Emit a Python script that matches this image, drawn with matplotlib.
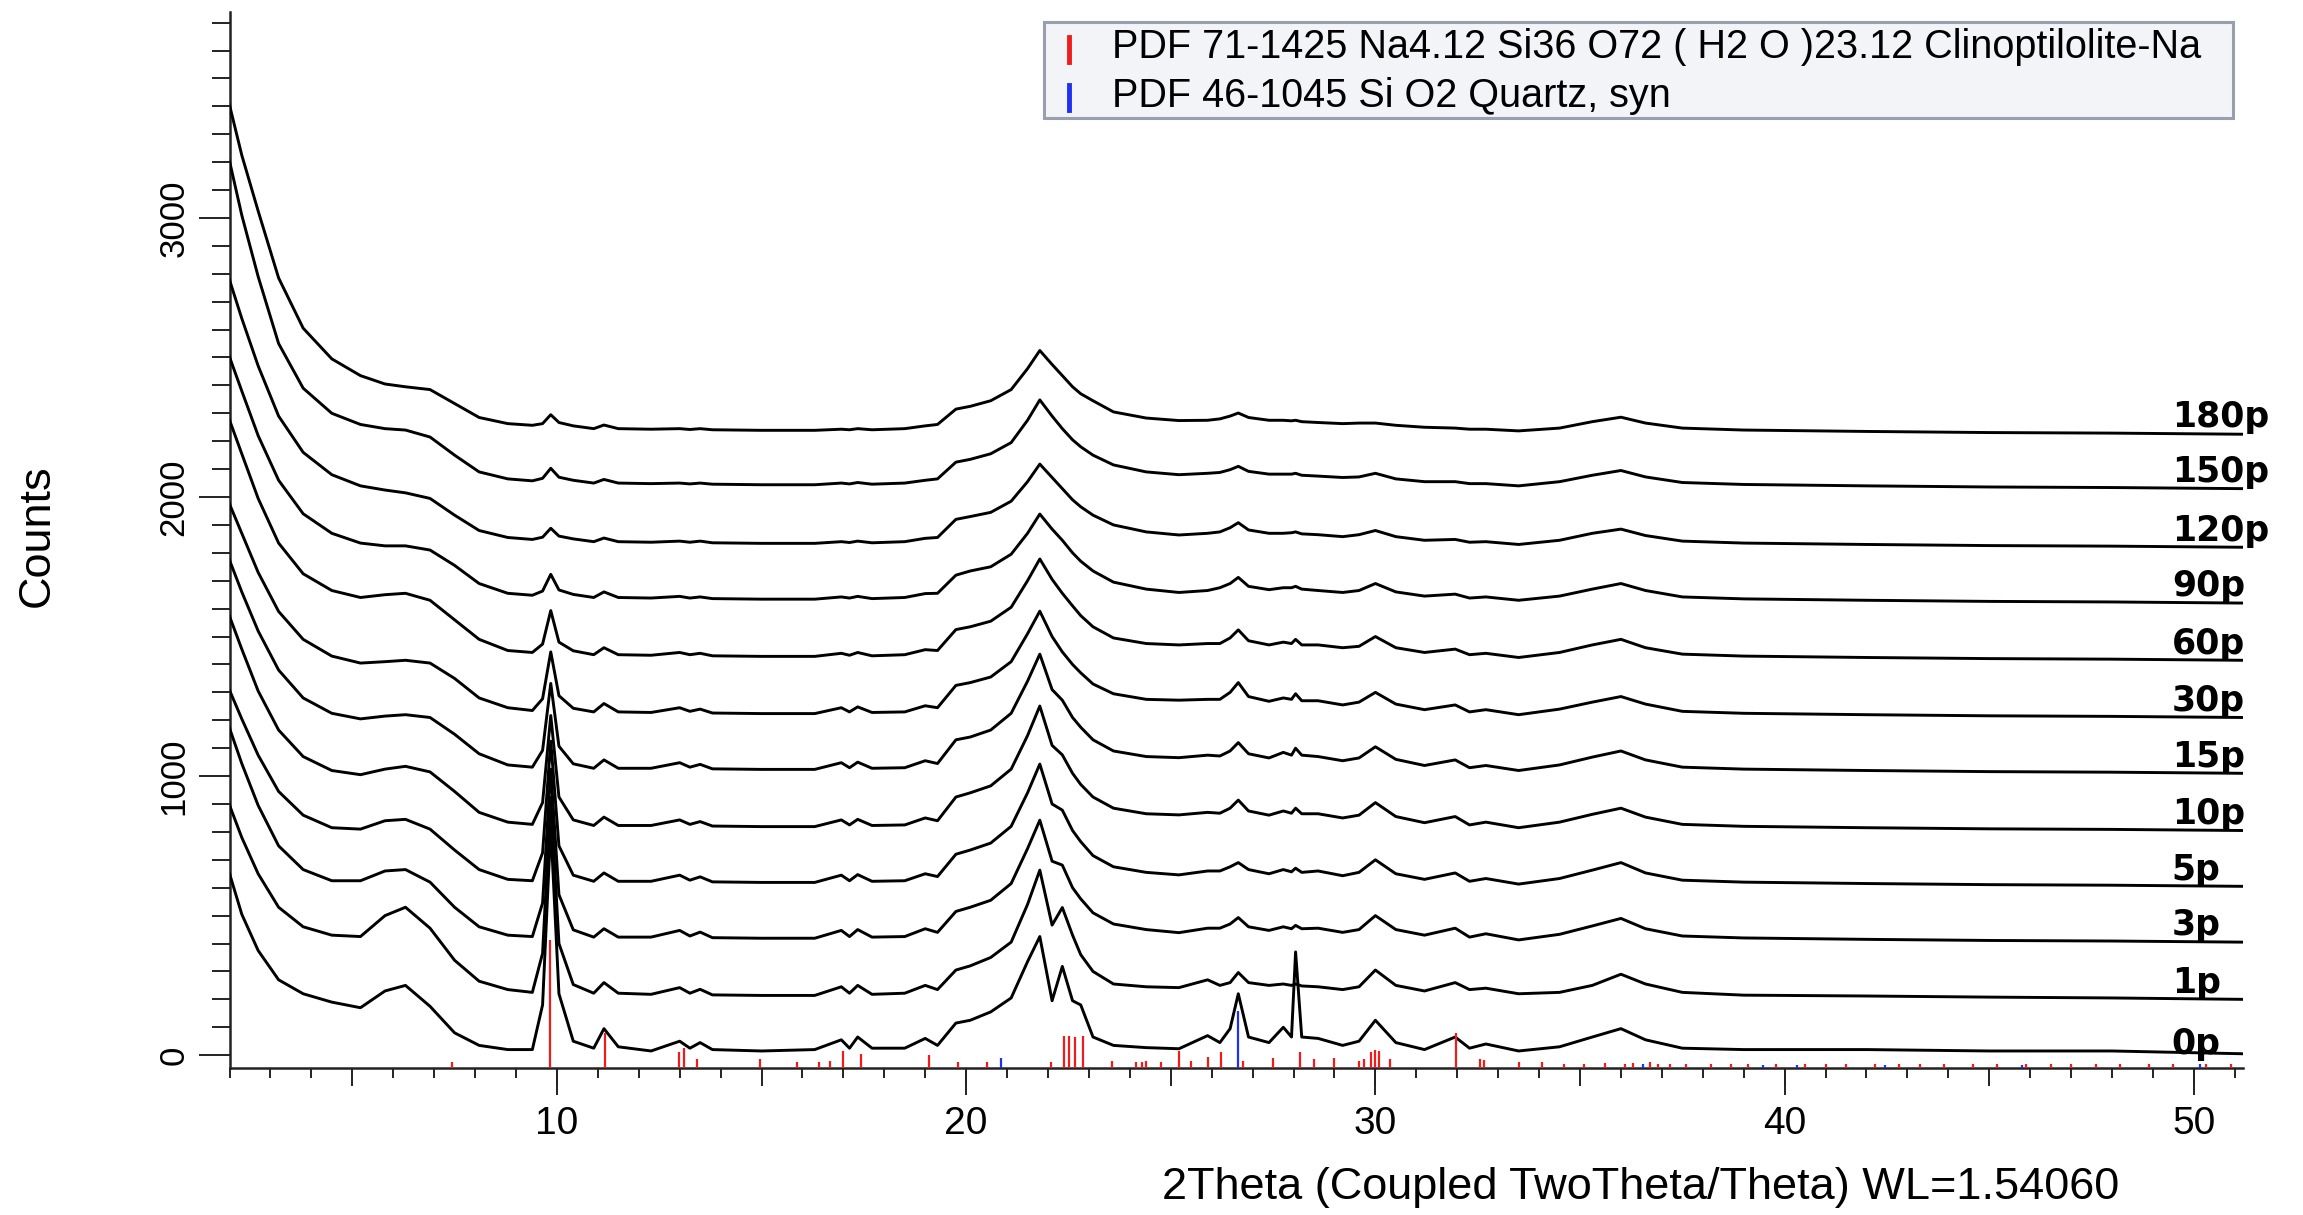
import matplotlib
matplotlib.use('Agg')
import matplotlib.pyplot as plt
import numpy as np
from matplotlib.patches import Rectangle
from matplotlib.lines import Line2D
from matplotlib.ticker import MultipleLocator, FixedLocator

plt.rcParams['font.family'] = ['Liberation Sans', 'DejaVu Sans']

# ---------------- data ----------------
two_theta = [2.0, 2.3, 2.7, 3.2, 3.8, 4.5, 5.2, 5.8, 6.3, 6.9, 7.5, 8.1, 8.8, 9.4,
             9.65, 9.85, 10.05, 10.4, 10.9, 11.15, 11.5,
             12.3, 13.0, 13.25, 13.5, 13.8, 15.0, 16.3, 16.95, 17.15, 17.35, 17.7, 18.5, 19.0, 19.3,
             19.75, 20.1, 20.6, 21.1, 21.5, 21.8, 22.1, 22.35, 22.6, 22.8, 23.1, 23.6, 24.4, 25.2,
             25.9, 26.2, 26.45, 26.65, 26.9, 27.4, 27.75, 27.95, 28.05, 28.2, 28.6, 29.2, 29.6,
             30.0, 30.5, 31.2, 31.95, 32.3, 32.7, 33.5, 34.5, 35.3, 36.0, 36.6, 37.5, 39.0, 42.0,
             45.0, 48.0, 51.2]

samples = ['0p', '1p', '3p', '5p', '10p', '15p', '30p', '60p', '90p', '120p', '150p', '180p']
# vertical stacking offset of each pattern (counts)
offsets = [5, 200, 405, 605, 805, 1010, 1210, 1415, 1620, 1820, 2030, 2225]

counts_0p = [646, 500, 370, 265, 215, 185, 165, 225, 245, 170, 75, 30, 15, 15,
             175, 815, 215, 45, 20, 90, 25,
             10, 45, 20, 40, 15, 10, 15, 50, 20, 60, 20, 20, 55, 30,
             110, 120, 150, 200, 330, 420, 190, 313, 190, 175, 60, 30, 22, 18,
             65, 40, 90, 215, 60, 40, 95, 60, 365, 60, 55, 30, 45,
             120, 40, 15, 60, 20, 35, 10, 25, 60, 90, 50, 20, 15, 15, 10, 10, 0]
counts_1p = [696, 580, 450, 330, 260, 230, 225, 300, 330, 255, 140, 65, 35, 25,
             165, 725, 200, 53, 22, 60, 22,
             18, 42, 22, 36, 16, 14, 14, 45, 22, 50, 18, 22, 50, 35,
             105, 120, 150, 205, 340, 463, 266, 329, 230, 160, 100, 55, 45, 42,
             70, 50, 60, 96, 60, 50, 55, 50, 55, 48, 45, 35, 45,
             105, 50, 30, 60, 35, 40, 20, 25, 50, 90, 55, 25, 15, 12, 8, 5, 0]
counts_3p = [767, 640, 490, 345, 260, 220, 220, 255, 260, 215, 125, 55, 25, 20,
             140, 620, 170, 44, 18, 48, 18,
             18, 42, 22, 36, 16, 14, 14, 42, 20, 45, 18, 20, 48, 35,
             110, 125, 150, 210, 335, 437, 290, 276, 195, 155, 105, 65, 45, 34,
             50, 50, 65, 88, 55, 42, 55, 48, 60, 48, 50, 35, 45,
             95, 45, 25, 50, 18, 30, 8, 28, 58, 85, 48, 22, 15, 10, 6, 4, 0]
counts_5p = [703, 600, 470, 340, 255, 210, 205, 235, 240, 205, 130, 60, 25, 20,
             120, 520, 145, 40, 18, 48, 18,
             18, 40, 22, 34, 16, 14, 14, 40, 20, 42, 18, 20, 45, 35,
             115, 130, 155, 215, 335, 438, 295, 273, 200, 160, 110, 70, 50, 41,
             55, 55, 70, 85, 60, 45, 60, 52, 65, 50, 55, 38, 50,
             95, 45, 25, 48, 18, 28, 8, 28, 58, 85, 48, 22, 15, 10, 6, 4, 0]
counts_10p = [768, 650, 500, 360, 265, 215, 200, 220, 230, 210, 140, 65, 30, 22,
              100, 412, 120, 38, 18, 48, 18,
              18, 38, 22, 32, 16, 14, 14, 38, 20, 40, 18, 20, 45, 35,
              120, 135, 160, 220, 340, 446, 305, 271, 205, 165, 120, 80, 60, 56,
              65, 62, 80, 109, 70, 55, 70, 62, 80, 60, 60, 45, 55,
              100, 50, 28, 50, 20, 30, 10, 30, 58, 80, 48, 22, 15, 10, 6, 4, 0]
counts_15p = [764, 650, 510, 370, 270, 215, 195, 205, 210, 200, 140, 70, 30, 22,
              82, 322, 97, 34, 18, 48, 18,
              18, 38, 22, 32, 16, 14, 14, 38, 20, 40, 18, 20, 45, 35,
              120, 130, 155, 215, 330, 427, 300, 262, 200, 165, 120, 80, 60, 56,
              65, 62, 80, 110, 70, 55, 75, 65, 90, 65, 60, 45, 55,
              95, 50, 28, 48, 20, 28, 10, 30, 58, 80, 48, 22, 15, 10, 6, 4, 0]
counts_30p = [765, 660, 520, 380, 280, 220, 195, 200, 205, 195, 140, 70, 35, 25,
              67, 235, 78, 33, 20, 50, 20,
              18, 35, 22, 30, 16, 14, 14, 35, 20, 38, 18, 20, 42, 35,
              115, 125, 145, 200, 300, 381, 290, 235, 190, 160, 120, 85, 65, 62,
              65, 65, 90, 125, 75, 58, 70, 65, 85, 60, 60, 45, 55,
              90, 48, 28, 45, 20, 28, 10, 30, 55, 75, 48, 22, 15, 10, 6, 4, 0]
counts_60p = [861, 740, 580, 420, 310, 250, 225, 235, 240, 215, 145, 75, 35, 28,
              58, 178, 65, 34, 20, 45, 20,
              18, 28, 20, 25, 16, 14, 14, 25, 18, 28, 16, 20, 38, 35,
              110, 120, 140, 190, 285, 363, 290, 240, 195, 160, 120, 80, 60, 55,
              60, 60, 80, 109, 70, 55, 65, 60, 75, 55, 55, 45, 50,
              85, 45, 28, 40, 20, 25, 10, 28, 55, 75, 45, 22, 15, 10, 6, 4, 0]
counts_90p = [882, 760, 600, 440, 320, 250, 215, 205, 205, 190, 135, 70, 35, 28,
              43, 103, 47, 31, 20, 40, 20,
              18, 24, 18, 22, 16, 14, 14, 22, 18, 24, 16, 20, 34, 35,
              100, 115, 130, 175, 250, 319, 265, 225, 180, 150, 115, 75, 50, 38,
              45, 55, 70, 92, 60, 48, 55, 55, 60, 50, 45, 38, 45,
              70, 40, 25, 32, 18, 22, 10, 25, 50, 70, 45, 22, 15, 10, 6, 4, 0]
counts_120p = [958, 820, 650, 470, 340, 260, 220, 205, 195, 175, 115, 60, 35, 28,
               36, 68, 40, 30, 20, 33, 20,
               18, 22, 18, 22, 16, 14, 14, 20, 17, 22, 16, 20, 32, 35,
               100, 110, 125, 165, 235, 298, 250, 210, 170, 145, 115, 80, 55, 44,
               50, 55, 70, 88, 62, 50, 50, 52, 55, 48, 45, 38, 45,
               60, 38, 25, 28, 18, 20, 10, 25, 50, 65, 42, 22, 15, 10, 6, 4, 0]
counts_150p = [1174, 980, 760, 520, 360, 270, 230, 215, 210, 185, 120, 60, 35, 28,
               37, 73, 41, 30, 20, 33, 20,
               18, 20, 17, 20, 16, 14, 14, 20, 17, 22, 16, 20, 30, 35,
               95, 105, 125, 165, 245, 318, 260, 215, 175, 150, 120, 85, 60, 50,
               55, 58, 68, 80, 62, 52, 52, 52, 55, 48, 45, 40, 42,
               55, 35, 25, 25, 18, 18, 10, 25, 48, 65, 42, 22, 15, 10, 6, 4, 0]
counts_180p = [1180, 1000, 800, 560, 380, 270, 210, 180, 170, 160, 110, 60, 38, 32,
               38, 70, 42, 30, 20, 33, 20,
               18, 20, 17, 20, 16, 14, 14, 18, 16, 20, 16, 20, 30, 35,
               90, 100, 120, 160, 235, 300, 250, 210, 170, 145, 120, 80, 58, 49,
               50, 55, 65, 76, 60, 50, 50, 48, 50, 45, 42, 38, 40,
               40, 32, 25, 22, 18, 18, 12, 22, 45, 61, 40, 22, 15, 10, 6, 4, 0]

patterns = [counts_0p, counts_1p, counts_3p, counts_5p, counts_10p, counts_15p,
            counts_30p, counts_60p, counts_90p, counts_120p, counts_150p, counts_180p]

# reference sticks (PDF 71-1425 clinoptilolite, PDF 46-1045 quartz)
clino_pos = [7.43, 9.82, 11.18, 12.99, 13.1, 13.42, 14.96, 15.86, 16.4, 16.68, 17.0, 17.43,
             19.09, 19.8, 20.5, 22.07, 22.39, 22.52, 22.66, 22.86, 23.56, 24.14, 24.3, 24.4,
             24.76, 25.2, 25.5, 25.9, 26.23, 26.76, 27.5, 28.15, 28.5, 28.98, 29.6, 29.72,
             29.9, 30.0, 30.1, 30.36, 31.96, 32.55, 32.65, 33.5, 34.07,
             34.6, 35.1, 35.6, 36.1, 36.3, 36.7, 36.9, 37.2, 37.6, 38.2, 38.7, 39.1, 39.8,
             40.5, 41.0, 41.5, 42.2, 42.8, 43.3, 43.9, 44.6, 45.2, 45.9, 46.5, 47.0, 47.6,
             48.2, 48.9, 49.5, 50.3, 50.9]
clino_top = [-25, 412, 80, 10, 25, -15, -15, -25, -25, -20, 15, 5,
             0, -25, -25, -25, 70, 68, 66, 68, -22, -25, -25, -22,
             -25, 15, -22, -5, 10, -20, -10, 10, -15, -10, -20, -15,
             10, 20, 15, -15, 80, -15, -18, -25, -25,
             -30, -30, -28, -30, -28, -26, -30, -30, -30, -32, -30, -32, -30,
             -32, -30, -32, -30, -32, -30, -32, -30, -32, -30, -32, -30, -32,
             -30, -32, -30, -32, -30]
quartz_pos = [20.86, 26.64, 36.54, 39.47, 40.3, 42.45, 45.8, 50.14]
quartz_top = [-10, 160, -30, -35, -35, -35, -35, -30]

y_ticks = [0, 1000, 2000, 3000]
x_ticks = [10, 20, 30, 40, 50]

legend_entries = ['PDF 71-1425 Na4.12 Si36 O72 ( H2 O )23.12 Clinoptilolite-Na',
                  'PDF 46-1045 Si O2 Quartz, syn']

# ---------------- figure ----------------
W, H = 2303, 1215
fig = plt.figure(figsize=(W / 100, H / 100), dpi=100)
ax = fig.add_axes([229.5 / W, 1 - 1068 / H, (2243 - 229.5) / W, (1068 - 12) / H])
XMIN, XMAX = 2.0, 51.2
YMIN, YMAX = -46, 3738
ax.set_xlim(XMIN, XMAX)
ax.set_ylim(YMIN, YMAX)

x = np.array(two_theta)
for name, off, rel in zip(samples, offsets, patterns):
    ax.plot(x, np.array(rel) + off, color='black', lw=2.1, zorder=3, solid_joinstyle='round')
    dy = 35 if name == '0p' else 60
    ax.text(49.46, off + dy, name, fontsize=25, fontweight='bold', family='DejaVu Sans',
            ha='left', va='center', clip_on=False, zorder=5)

ax.vlines(clino_pos, YMIN, clino_top, colors='#f01c1c', lw=1.6, zorder=4)
ax.vlines(quartz_pos, YMIN, quartz_top, colors='#2030f0', lw=1.6, zorder=4)

# spines
for s in ['top', 'right']:
    ax.spines[s].set_visible(False)
for s in ['left', 'bottom']:
    ax.spines[s].set_linewidth(1.8)
    ax.spines[s].set_color('#222222')

# y ticks
ax.set_yticks(y_ticks, [str(v) for v in y_ticks], fontsize=25, rotation=90, va='center',
              family='Liberation Sans')
ax.yaxis.set_minor_locator(MultipleLocator(100))
ax.tick_params(axis='y', which='major', length=22, width=1.4, pad=6, color='#222222')
ax.tick_params(axis='y', which='minor', length=13, width=1.4, color='#222222')

# x ticks: minor every 1, medium every 5, long labelled every 10
ax.xaxis.set_major_locator(FixedLocator(list(range(5, 51, 5))))
ax.xaxis.set_minor_locator(FixedLocator(list(range(2, 52))))
ax.tick_params(axis='x', which='major', length=13, width=1.4, labelbottom=False, color='#222222')
ax.tick_params(axis='x', which='minor', length=7.2, width=1.4, color='#222222')
sec = ax.secondary_xaxis('bottom')
sec.set_xticks(x_ticks, [str(v) for v in x_ticks], fontsize=28, family='Liberation Sans')
sec.tick_params(axis='x', length=19.5, width=1.4, pad=8, color='#222222')
sec.spines['bottom'].set_visible(False)

# axis titles
fig.text(37 / W, 1 - 536 / H, 'Counts', rotation=90, fontsize=32.5, ha='center', va='center')
fig.text(1641 / W, 1 - 1187 / H, '2Theta (Coupled TwoTheta/Theta) WL=1.54060',
         fontsize=32.5, ha='center', va='center')

# legend box
lx0, lx1, ly0, ly1 = 1044, 2233, 22, 117.5
fig.add_artist(Rectangle((lx0 / W, 1 - ly1 / H), (lx1 - lx0) / W, (ly1 - ly0) / H,
                         transform=fig.transFigure, facecolor='#f3f4f8',
                         edgecolor='#98a0b0', lw=2.2, zorder=10))
for (yc, col, ytop, ybot), txt in zip([(47, '#f01c1c', 37, 62), (96, '#2030f0', 85, 110)],
                                      legend_entries):
    fig.add_artist(Line2D([1069 / W, 1069 / W], [1 - ytop / H, 1 - ybot / H],
                          transform=fig.transFigure, color=col, lw=3.5, zorder=11))
    fig.text(1112 / W, 1 - yc / H, txt, fontsize=28.5, ha='left', va='center', zorder=12)

fig.savefig('out.png', dpi=100)
